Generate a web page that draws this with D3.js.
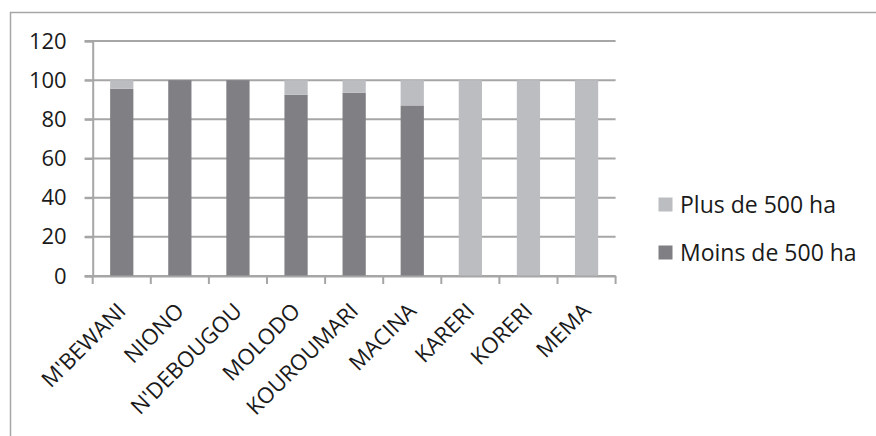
<!DOCTYPE html>
<html>
<head>
<meta charset="utf-8">
<script src="https://cdn.jsdelivr.net/npm/d3@7"></script>
<style>
  body { margin: 0; background: #fff; }
  text { font-family: "Open Sans", sans-serif; fill: #1a1a1a; }
</style>
</head>
<body>
<svg></svg>
<script>
// data (percent of area)
let categories = ["M'BEWANI", 'NIONO', "N'DEBOUGOU", 'MOLODO', 'KOUROUMARI', 'MACINA', 'KARERI', 'KORERI', 'MEMA']
let moins = [95.6, 100, 100, 92.5, 93.6, 87.1, 0, 0, 0]
let plus = [4.4, 0, 0, 7.5, 6.4, 12.9, 100, 100, 100]
let seriesNames = ['Moins de 500 ha', 'Plus de 500 ha']
let yTicks = [0, 20, 40, 60, 80, 100, 120]

let W = 876, H = 436
let plotLeft = 92.7, plotRight = 615.6, plotTop = 41, plotBottom = 276
let colors = { moins: '#808084', plus: '#bcbdc1' }
let gridColor = '#a6a6a6'

let svg = d3.select('svg').attr('width', W).attr('height', H)

// outer chart border (runs past right / bottom edges)
svg.append('rect')
  .attr('x', 10.5).attr('y', 12.5)
  .attr('width', 1000).attr('height', 1000)
  .attr('fill', 'none')
  .attr('stroke', gridColor)
  .attr('stroke-width', 1.5)

let x = d3.scaleBand()
  .domain(categories)
  .range([plotLeft, plotRight])
  .paddingInner(0.6)
  .paddingOuter(0.3)

let y = d3.scaleLinear().domain([0, 120]).range([plotBottom, plotTop])

// gridlines
svg.append('g')
  .selectAll('line')
  .data(yTicks)
  .enter().append('line')
  .attr('x1', plotLeft - 8)
  .attr('x2', plotRight)
  .attr('y1', d => y(d))
  .attr('y2', d => y(d))
  .attr('stroke', gridColor)
  .attr('stroke-width', 2)

// y axis labels
let yAxis = svg.append('g')
  .attr('transform', `translate(${plotLeft},0)`)
  .call(d3.axisLeft(y).tickValues(yTicks).tickSize(8).tickPadding(18))
yAxis.select('.domain').attr('stroke', gridColor).attr('stroke-width', 2)
yAxis.selectAll('.tick line').attr('stroke', gridColor).attr('stroke-width', 2)
yAxis.selectAll('text').style('font-size', '22px').style('font-family', '"Open Sans", sans-serif').attr('fill', '#1a1a1a')

// stacked bars
let rows = categories.map((c, i) => ({ cat: c, moins: moins[i], plus: plus[i] }))
let stacked = d3.stack().keys(['moins', 'plus'])(rows)

svg.append('g')
  .selectAll('g')
  .data(stacked)
  .enter().append('g')
  .attr('fill', d => colors[d.key])
  .selectAll('rect')
  .data(d => d)
  .enter().append('rect')
  .attr('x', d => x(d.data.cat))
  .attr('width', x.bandwidth())
  .attr('y', d => y(d[1]))
  .attr('height', d => y(d[0]) - y(d[1]))

// x axis
let xAxis = svg.append('g')
  .attr('transform', `translate(0,${plotBottom})`)
  .call(d3.axisBottom(x).tickSize(0).tickFormat(''))
xAxis.select('.domain').attr('stroke', gridColor).attr('stroke-width', 2)

// category separators (tick marks at band edges)
let edges = categories.map(c => x(c) - x.step() * 0.3).concat([plotRight])
svg.append('g')
  .selectAll('line')
  .data(edges)
  .enter().append('line')
  .attr('x1', d => d).attr('x2', d => d)
  .attr('y1', plotBottom).attr('y2', plotBottom + 8)
  .attr('stroke', gridColor)
  .attr('stroke-width', 2)

// rotated category labels
let labelGroups = svg.append('g')
  .selectAll('g')
  .data(categories)
  .enter().append('g')
  .attr('transform', d => 'translate(' + (x(d) + x.bandwidth() / 2) + ',' + (plotBottom + 31) + ') rotate(-45)')
labelGroups.append('text')
  .attr('text-anchor', 'end')
  .attr('dy', '0.35em')
  .style('font-size', '22px')
  .text(d => d)

// legend (Plus on top, Moins below)
let legendItems = [
  { name: seriesNames[1], color: colors.plus, cy: 204.5 },
  { name: seriesNames[0], color: colors.moins, cy: 252.5 }
]
let legend = svg.append('g')
  .selectAll('g')
  .data(legendItems)
  .enter().append('g')
legend.append('rect')
  .attr('x', 658.5).attr('y', d => d.cy - 7)
  .attr('width', 14).attr('height', 14)
  .attr('fill', d => d.color)
legend.append('text')
  .attr('x', 680).attr('y', d => d.cy)
  .attr('dy', '0.35em')
  .style('font-size', '23px')
  .text(d => d.name)
</script>
</body>
</html>
